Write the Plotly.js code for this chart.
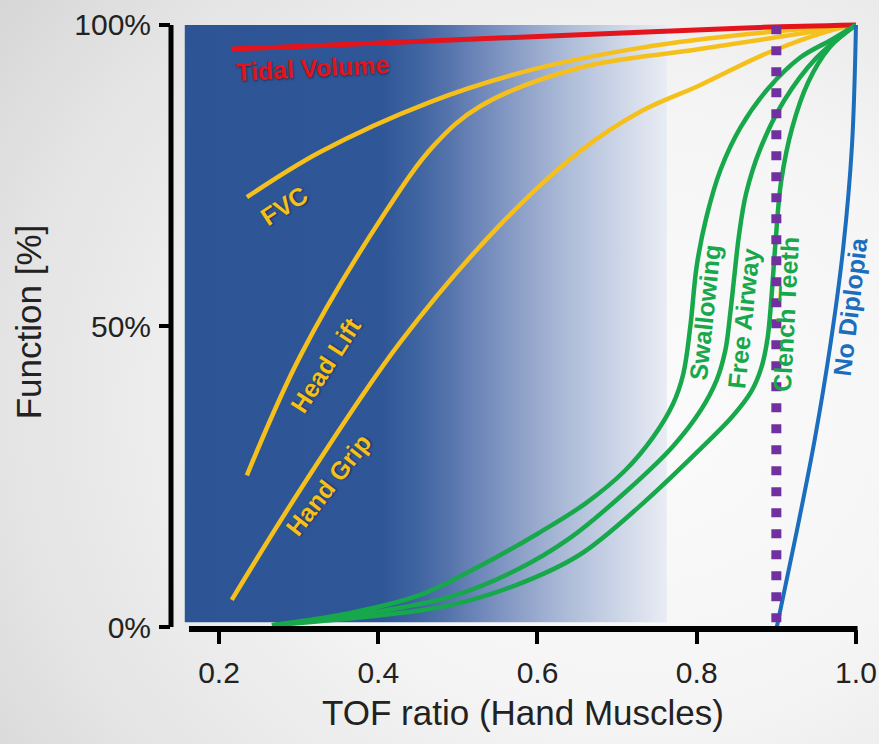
<!DOCTYPE html>
<html>
<head>
<meta charset="utf-8">
<script src="https://cdn.plot.ly/plotly-3.0.1.min.js"></script>
<style>
  html, body { margin: 0; padding: 0; }
  #chart {
    width: 879px; height: 744px;
    background: radial-gradient(ellipse 95% 100% at 72% 55%, #fbfbfb 0%, #f5f5f5 40%, #e4e4e4 75%, #d2d2d2 100%);
  }
</style>
</head>
<body>
<div id="chart"></div>
<script>
// ---- data ----
const xTickVals = [0.2, 0.4, 0.6, 0.8, 1.0];
const xTickText = ['0.2', '0.4', '0.6', '0.8', '1.0'];
const yTickVals = [0, 50, 100];
const yTickText = ['0%', '50%', '100%'];

// shaded "residual block" band (TOF range and function range)
const bandX = [0.157, 0.7625];
const bandY = [0.8, 100];

const tidalX = [0.216, 0.402, 0.729, 0.880, 1.0];
const tidalY = [96.0, 97.0, 98.8, 99.6, 100];

const fvcX = [0.235, 0.327, 0.465, 0.591, 0.729, 0.880, 1.0];
const fvcY = [71.4, 78.9, 87.2, 92.5, 96.2, 98.7, 100];

const headLiftX = [0.235, 0.302, 0.405, 0.470, 0.528, 0.653, 0.804, 1.0];
const headLiftY = [25.2, 45.0, 68.1, 80.0, 86.5, 92.9, 96.0, 100];

const handGripX = [0.216, 0.302, 0.427, 0.553, 0.653, 0.729, 0.804, 0.888, 0.971, 1.0];
const handGripY = [4.5, 22.8, 47.2, 66.8, 79.0, 85.6, 90.0, 95.3, 99.2, 100];

const swallowX = [0.2665, 0.36, 0.45, 0.53, 0.60, 0.66, 0.71, 0.745, 0.77, 0.783, 0.792, 0.80, 0.812, 0.83, 0.855, 0.89, 0.93, 0.97, 1.0];
const swallowY = [0.3, 2.2, 5.2, 10.3, 15.5, 20.5, 26.0, 31.5, 37.0, 42.0, 50.0, 60.0, 68.0, 76.0, 83.0, 89.5, 94.6, 97.6, 100];

const airwayX = [0.2665, 0.40, 0.49, 0.574, 0.641, 0.712, 0.77, 0.805, 0.825, 0.836, 0.842, 0.847, 0.853, 0.862, 0.88, 0.91, 0.95, 1.0];
const airwayY = [0.3, 2.6, 5.0, 9.5, 14.8, 22.6, 30.0, 36.0, 41.0, 46.0, 52.0, 58.0, 65.0, 72.0, 79.5, 87.5, 94.5, 100];

const clenchX = [0.2665, 0.406, 0.49, 0.574, 0.653, 0.732, 0.804, 0.845, 0.868, 0.881, 0.889, 0.894, 0.899, 0.906, 0.92, 0.94, 0.967, 1.0];
const clenchY = [0.3, 2.0, 3.6, 7.0, 12.0, 20.5, 29.5, 35.0, 39.0, 43.0, 48.0, 55.0, 64.0, 74.0, 83.0, 90.5, 96.3, 100];

const diplopiaX = [0.9006, 0.925, 0.948, 0.968, 0.984, 0.995, 1.0];
const diplopiaY = [0, 15.5, 31, 47, 63, 80, 100];

const thresholdX = [0.9, 0.9];
const thresholdY = [0.8, 101.3];

// labels: text, x, y, angle
const labelText = ['Tidal Volume', 'FVC', 'Head Lift', 'Hand Grip', 'Swallowing', 'Free Airway', 'Clench Teeth', 'No Diplopia'];
const labelX = [0.318, 0.281, 0.334, 0.337, 0.810, 0.859, 0.912, 0.993];
const labelY = [92.9, 70.0, 43.5, 23.6, 52.2, 51.3, 52.0, 53.3];
const labelAngle = [-3, -33, -57, -52, -84, -84, -87, -83];

// ---- styles ----
const RED = '#e3141c', YEL = '#f5c01c', GRN = '#17a84b', BLU = '#1b6dbd', PUR = '#7030a0';
const labelColor = [RED, YEL, YEL, YEL, GRN, GRN, GRN, BLU];
const FONT = 'Liberation Sans, Arial, Helvetica, sans-serif';

function curve(x, y, color, w) {
  return { x: x, y: y, type: 'scatter', mode: 'lines', hoverinfo: 'skip', showlegend: false,
           line: { color: color, width: w, shape: 'spline', smoothing: 1 } };
}

const traces = [
  { x: [bandX[0], bandX[1], bandX[1], bandX[0], bandX[0]],
    y: [bandY[0], bandY[0], bandY[1], bandY[1], bandY[0]],
    type: 'scatter', mode: 'lines', fill: 'toself', hoverinfo: 'skip', showlegend: false,
    line: { width: 0, color: 'rgba(0,0,0,0)' },
    fillgradient: { type: 'horizontal',
      colorscale: [[0, '#2d5495'], [0.41, '#2f5697'], [0.49, '#4166a2'], [0.55, '#5674ac'],
                   [0.61, '#6e87b9'], [0.70, '#8ea1c8'], [0.78, '#a9b8d6'], [0.86, '#c1cce2'],
                   [0.94, '#d8dfec'], [1, '#e8ecf4']] } },
  curve(fvcX, fvcY, YEL, 4.5),
  curve(headLiftX, headLiftY, YEL, 4.5),
  curve(handGripX, handGripY, YEL, 4.5),
  curve(tidalX, tidalY, RED, 5),
  curve(swallowX, swallowY, GRN, 4.5),
  curve(airwayX, airwayY, GRN, 4.5),
  curve(clenchX, clenchY, GRN, 4.5),
  curve(diplopiaX, diplopiaY, BLU, 4),
  { x: thresholdX, y: thresholdY, type: 'scatter', mode: 'lines', hoverinfo: 'skip', showlegend: false,
    line: { color: PUR, width: 10, dash: '9px,12px' } }
];

const annotations = labelText.map((t, i) => ({
  text: t, x: labelX[i], y: labelY[i], xref: 'x', yref: 'y', showarrow: false,
  textangle: labelAngle[i],
  font: { family: FONT, size: 25, color: labelColor[i], weight: 700,
          shadow: i < 4 ? '1px 1px 2px rgba(0,0,0,0.45)' : 'none' }
}));

const layout = {
  width: 879, height: 744,
  margin: { l: 171, r: 4, t: 15, b: 115 },
  paper_bgcolor: 'rgba(0,0,0,0)',
  plot_bgcolor: 'rgba(0,0,0,0)',
  font: { family: FONT, color: '#222' },
  showlegend: false,
  xaxis: {
    range: [0.1397, 1.0239], showgrid: false, zeroline: false, showline: false,
    tickvals: xTickVals, ticktext: xTickText, ticks: 'outside', ticklen: 14, tickwidth: 4,
    tickcolor: '#000', tickfont: { size: 30, color: '#222' }, ticklabelstandoff: 3,
    title: { text: 'TOF ratio (Hand Muscles)', font: { size: 35, color: '#222' }, standoff: 12 }
  },
  yaxis: {
    range: [-0.33, 101.66], showgrid: false, zeroline: false, showline: false,
    tickvals: yTickVals, ticktext: yTickText, ticks: 'outside', ticklen: 11, tickwidth: 4,
    tickcolor: '#000', tickfont: { size: 30, color: '#222' }, ticklabelstandoff: 2,
    title: { text: 'Function [%]', font: { size: 35, color: '#222' }, standoff: 22 }
  },
  shapes: [
    { type: 'line', xref: 'paper', yref: 'y', x0: 0, x1: 0, y0: 0, y1: 100,
      line: { color: '#000', width: 5 } },
    { type: 'line', xref: 'x', yref: 'paper', x0: 0.1623, x1: 1.002, y0: 0, y1: 0,
      line: { color: '#000', width: 6 } }
  ],
  annotations: annotations
};

Plotly.newPlot('chart', traces, layout, { staticPlot: true, displayModeBar: false });
</script>
</body>
</html>
